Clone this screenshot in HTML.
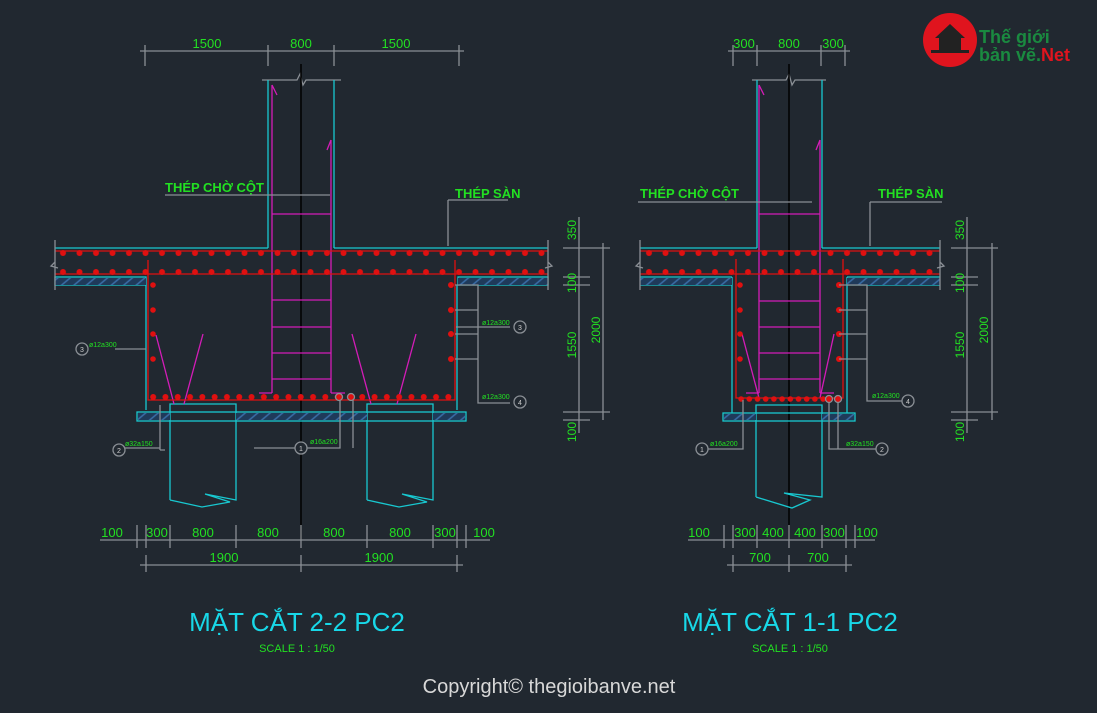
<!DOCTYPE html>
<html><head><meta charset="utf-8"><style>
html,body{margin:0;padding:0;background:#212830;}
svg{display:block}
text{font-family:"Liberation Sans",sans-serif;}
</style></head><body>
<svg width="1097" height="713" viewBox="0 0 1097 713" xmlns="http://www.w3.org/2000/svg">
<defs>
<pattern id="dL1" x="54.75" y="248" width="16.5" height="10" patternUnits="userSpaceOnUse"><circle cx="8.25" cy="5" r="3" fill="#e01010"/></pattern>
<pattern id="dL2" x="54.75" y="267" width="16.5" height="10" patternUnits="userSpaceOnUse"><circle cx="8.25" cy="5" r="3" fill="#e01010"/></pattern>
<pattern id="dB" x="147" y="392" width="12.3" height="10" patternUnits="userSpaceOnUse"><circle cx="6.15" cy="5" r="3" fill="#e01010"/></pattern>
<pattern id="dR1" x="640.75" y="248" width="16.5" height="10" patternUnits="userSpaceOnUse"><circle cx="8.25" cy="5" r="3" fill="#e01010"/></pattern>
<pattern id="dR2" x="640.75" y="267" width="16.5" height="10" patternUnits="userSpaceOnUse"><circle cx="8.25" cy="5" r="3" fill="#e01010"/></pattern>
<pattern id="dRB" x="737" y="394" width="8.2" height="10" patternUnits="userSpaceOnUse"><circle cx="4.1" cy="5" r="2.8" fill="#e01010"/></pattern>
<pattern id="hatch" width="8" height="8" patternUnits="userSpaceOnUse" patternTransform="rotate(-40)"><rect width="8" height="8" fill="#1f3a5a"/><line x1="0" y1="2" x2="8" y2="2" stroke="#3a6ea8" stroke-width="1.5"/></pattern>
</defs>
<rect width="1097" height="713" fill="#212830"/>

<!-- ============ LEFT ============ -->
<g fill="none" stroke-width="1.3">
<g stroke="#8a8f95"><line x1="140" y1="51" x2="464" y2="51"/>
<line x1="145" y1="45" x2="145" y2="66"/><line x1="268" y1="45" x2="268" y2="66"/><line x1="334" y1="45" x2="334" y2="66"/><line x1="459" y1="45" x2="459" y2="66"/>
<path d="M262 80H297L300 74L303 85L306 80H341"/></g>
<line x1="301" y1="64" x2="301" y2="540" stroke="#000" stroke-width="1.5"/>
<g stroke="#18c8d0"><line x1="268" y1="80" x2="268" y2="248"/><line x1="334" y1="80" x2="334" y2="248"/>
<path d="M55 248H268M334 248H548"/>
<path d="M146 285V410M457 285V410"/>
<rect x="137" y="412" width="329" height="9"/>
<path d="M170 500V404H236V500L205 494L230 502L202 507L170 500"/>
<path d="M367 500V404H433V500L402 494L427 502L399 507L367 500"/>
<rect x="55" y="277" width="91" height="8"/><rect x="458" y="277" width="90" height="8"/></g>
<rect x="55" y="278" width="91" height="7" fill="url(#hatch)" stroke="none"/>
<rect x="458" y="278" width="90" height="7" fill="url(#hatch)" stroke="none"/>
<rect x="138" y="413" width="32" height="7" fill="url(#hatch)" stroke="none"/>
<rect x="236" y="413" width="131" height="7" fill="url(#hatch)" stroke="none"/>
<rect x="433" y="413" width="32" height="7" fill="url(#hatch)" stroke="none"/>
<g stroke="#d41cb8"><line x1="272" y1="85" x2="272" y2="393"/><line x1="331" y1="140" x2="331" y2="393"/>
<path d="M272 85L277 95M331 140L327 150"/>
<path d="M272 214H331M272 300H331M272 327H331M272 353H331M272 379H331M259 393H272M331 393H345"/>
<path d="M156 335L174 404M203 334L184 404M352 334L371 404M416 334L397 404"/></g>
<g stroke="#e01010"><line x1="55" y1="251" x2="548" y2="251"/><line x1="55" y1="274" x2="548" y2="274"/>
<path d="M148 260V400H455V260"/></g>
<rect x="58" y="248" width="488" height="10" fill="url(#dL1)" stroke="none"/>
<rect x="58" y="267" width="488" height="10" fill="url(#dL2)" stroke="none"/>
<rect x="150" y="392" width="303" height="10" fill="url(#dB)" stroke="none"/>
<g fill="#e01010" stroke="none"><circle cx="153" cy="285" r="2.8"/><circle cx="153" cy="310" r="2.8"/><circle cx="153" cy="334" r="2.8"/><circle cx="153" cy="359" r="2.8"/>
<circle cx="451" cy="285" r="3"/><circle cx="451" cy="310" r="3"/><circle cx="451" cy="334" r="3"/><circle cx="451" cy="359" r="3"/></g>
<g stroke="#8a8f95"><path d="M55 240V290M55 262L51 266L58 268M548 240V290M548 262L552 266L545 268"/>
<path d="M165 195H330M448 200V246M448 200H508"/>
<path d="M115 349H146M165 450H160M160 450V405M254 448H340V397M353 448V397M455 285H478V403H510M455 310H478M455 334H478M455 359H478M456 327H510"/>
<path d="M125 448H160"/>
<line x1="100" y1="540" x2="490" y2="540"/>
<path d="M137 525V548M146 525V548M170 525V548M236 525V548M301 525V548M367 525V548M433 525V548M457 525V548M466 525V548"/>
<line x1="140" y1="565" x2="463" y2="565"/><path d="M146 555V572M301 555V572M457 555V572"/>
<line x1="579" y1="217" x2="579" y2="433"/><path d="M563 248H590M563 277H590M563 285H590M563 412H590M563 420H590"/>
<line x1="603" y1="243" x2="603" y2="420"/><path d="M590 248H610M590 412H610"/></g>
<g stroke="#8a8f95" fill="#212830"><circle cx="82" cy="349" r="6"/><circle cx="119" cy="450" r="6"/><circle cx="301" cy="448" r="6"/><circle cx="520" cy="327" r="6"/><circle cx="520" cy="402" r="6"/></g>
<g stroke="#8a8f95" fill="#e01010"><circle cx="339" cy="397" r="3.5"/><circle cx="351" cy="397" r="3.5"/></g>
</g>
<g fill="#ccc" font-size="7" text-anchor="middle"><text x="82" y="352">3</text><text x="119" y="453">2</text><text x="301" y="451">1</text><text x="520" y="330">3</text><text x="520" y="405">4</text></g>
<g fill="#22e022" font-size="7"><text x="89" y="347">ø12a300</text><text x="125" y="446">ø32a150</text><text x="310" y="444">ø16a200</text><text x="482" y="325">ø12a300</text><text x="482" y="399">ø12a300</text></g>
<g fill="#22e022" font-size="13" text-anchor="middle"><text x="207" y="48">1500</text><text x="301" y="48">800</text><text x="396" y="48">1500</text>
<text x="112" y="537">100</text><text x="157" y="537">300</text><text x="203" y="537">800</text><text x="268" y="537">800</text><text x="334" y="537">800</text><text x="400" y="537">800</text><text x="445" y="537">300</text><text x="484" y="537">100</text>
<text x="224" y="562">1900</text><text x="379" y="562">1900</text></g>
<g fill="#22e022" font-size="13" font-weight="bold"><text x="165" y="192">THÉP CHỜ CỘT</text><text x="455" y="198">THÉP SÀN</text></g>
<g fill="#22e022" font-size="12" text-anchor="middle">
<text transform="translate(576,230) rotate(-90)">350</text><text transform="translate(576,283) rotate(-90)">100</text><text transform="translate(576,345) rotate(-90)">1550</text><text transform="translate(576,432) rotate(-90)">100</text><text transform="translate(600,330) rotate(-90)">2000</text></g>
<text x="297" y="631" fill="#18d8e8" font-size="26" text-anchor="middle">MẶT CẮT 2-2 PC2</text>
<text x="297" y="652" fill="#22e022" font-size="11" text-anchor="middle">SCALE 1 : 1/50</text>

<!-- ============ RIGHT ============ -->
<g fill="none" stroke-width="1.3">
<g stroke="#8a8f95"><line x1="728" y1="51" x2="850" y2="51"/>
<path d="M733 45V66M757 45V66M821 45V66M845 45V66"/>
<path d="M752 80H786L789 74L792 85L795 80H826"/></g>
<line x1="789" y1="64" x2="789" y2="540" stroke="#000" stroke-width="1.5"/>
<g stroke="#18c8d0"><line x1="757" y1="80" x2="757" y2="248"/><line x1="822" y1="80" x2="822" y2="248"/>
<path d="M640 248H757M822 248H940"/>
<path d="M732 285V413M847 285V413"/>
<path d="M640 277H732M640 285H732M847 277H940M847 285H940M732 277V285M847 277V285"/>
<rect x="723" y="413" width="132" height="8"/>
<path d="M756 497V405H822V497L784 493L810 500L792 508L756 497"/></g>
<rect x="640" y="278" width="92" height="7" fill="url(#hatch)" stroke="none"/>
<rect x="847" y="278" width="93" height="7" fill="url(#hatch)" stroke="none"/>
<rect x="724" y="414" width="32" height="6" fill="url(#hatch)" stroke="none"/><rect x="822" y="414" width="32" height="6" fill="url(#hatch)" stroke="none"/>
<g stroke="#d41cb8"><line x1="759" y1="85" x2="759" y2="393"/><line x1="820" y1="140" x2="820" y2="393"/>
<path d="M759 85L764 95M820 140L816 150"/>
<path d="M759 214H820M759 301H820M759 327H820M759 353H820M759 379H820M746 393H759M820 393H834"/>
<path d="M742 334L759 398M834 334L820 398"/></g>
<g stroke="#e01010"><line x1="640" y1="251" x2="940" y2="251"/><line x1="640" y1="274" x2="940" y2="274"/>
<path d="M736 259V398H843V259"/></g>
<rect x="644" y="248" width="296" height="10" fill="url(#dR1)" stroke="none"/>
<rect x="644" y="267" width="296" height="10" fill="url(#dR2)" stroke="none"/>
<rect x="737" y="394" width="90" height="10" fill="url(#dRB)" stroke="none"/>
<g fill="#e01010" stroke="none"><circle cx="740" cy="285" r="2.8"/><circle cx="740" cy="310" r="2.8"/><circle cx="740" cy="334" r="2.8"/><circle cx="740" cy="359" r="2.8"/>
<circle cx="839" cy="285" r="3"/><circle cx="839" cy="310" r="3"/><circle cx="839" cy="334" r="3"/><circle cx="839" cy="359" r="3"/></g>
<g stroke="#8a8f95"><path d="M640 240V290M640 262L636 266L643 268M940 240V290M940 262L944 266L937 268"/>
<path d="M638 202H812M870 202V246M870 202H942"/>
<path d="M839 285H867V401H902M839 310H867M839 334H867M839 359H867"/>
<path d="M703 449H743V400M829 400V449H876M838 400V449"/>
<line x1="688" y1="540" x2="875" y2="540"/>
<path d="M724 525V548M733 525V548M757 525V548M789 525V548M822 525V548M846 525V548M855 525V548"/>
<line x1="727" y1="565" x2="852" y2="565"/><path d="M733 555V572M789 555V572M846 555V572"/>
<line x1="967" y1="217" x2="967" y2="433"/><path d="M951 248H978M951 277H978M951 285H978M951 412H978M951 420H978"/>
<line x1="992" y1="243" x2="992" y2="420"/><path d="M978 248H998M978 412H998"/></g>
<g stroke="#8a8f95" fill="#212830"><circle cx="908" cy="401" r="6"/><circle cx="702" cy="449" r="6"/><circle cx="882" cy="449" r="6"/></g>
<g stroke="#8a8f95" fill="#e01010"><circle cx="829" cy="399" r="3.5"/><circle cx="838" cy="399" r="3.5"/></g>
</g>
<g fill="#ccc" font-size="7" text-anchor="middle"><text x="908" y="404">4</text><text x="702" y="452">1</text><text x="882" y="452">2</text></g>
<g fill="#22e022" font-size="7"><text x="872" y="398">ø12a300</text><text x="710" y="446">ø16a200</text><text x="846" y="446">ø32a150</text></g>
<g fill="#22e022" font-size="13" text-anchor="middle"><text x="744" y="48">300</text><text x="789" y="48">800</text><text x="833" y="48">300</text>
<text x="699" y="537">100</text><text x="745" y="537">300</text><text x="773" y="537">400</text><text x="805" y="537">400</text><text x="834" y="537">300</text><text x="867" y="537">100</text>
<text x="760" y="562">700</text><text x="818" y="562">700</text></g>
<g fill="#22e022" font-size="13" font-weight="bold"><text x="640" y="198">THÉP CHỜ CỘT</text><text x="878" y="198">THÉP SÀN</text></g>
<g fill="#22e022" font-size="12" text-anchor="middle">
<text transform="translate(964,230) rotate(-90)">350</text><text transform="translate(964,283) rotate(-90)">100</text><text transform="translate(964,345) rotate(-90)">1550</text><text transform="translate(964,432) rotate(-90)">100</text><text transform="translate(988,330) rotate(-90)">2000</text></g>
<text x="790" y="631" fill="#18d8e8" font-size="26" text-anchor="middle">MẶT CẮT 1-1 PC2</text>
<text x="790" y="652" fill="#22e022" font-size="11" text-anchor="middle">SCALE 1 : 1/50</text>

<circle cx="950" cy="40" r="27" fill="#e0141e"/>
<path d="M935 38L950 24L965 38H961V50H939V38Z" fill="#222"/>
<rect x="931" y="50" width="38" height="3" fill="#222"/>
<text x="979" y="43" fill="#1a8a40" font-size="18" font-weight="bold">Thế giới</text>
<text x="979" y="61" fill="#1a8a40" font-size="18" font-weight="bold">bản vẽ.<tspan fill="#e0141e">Net</tspan></text>

<text x="549" y="693" fill="#d8d8d8" font-size="20" text-anchor="middle">Copyright© thegioibanve.net</text>
</svg>
</body></html>
